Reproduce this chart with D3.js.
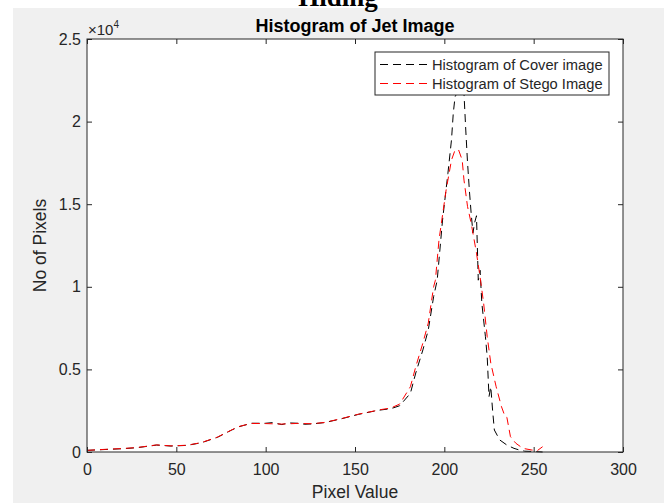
<!DOCTYPE html>
<html>
<head>
<meta charset="utf-8">
<script src="https://cdn.jsdelivr.net/npm/d3@7"></script>
<style>
  body{margin:0;background:#fff;}
  text{font-family:"Liberation Sans",Arial,sans-serif;fill:#262626;}
</style>
</head>
<body>
<svg width="664" height="503"></svg>
<script>
// pixel values (x) and counts
const coverX=[0,10,20,28,39,47,56,64,73,81,85,92,100,104,109,113,118,122,126,133,142,152,161,164,170,175,181,184,188,191,194,196,199,202,204,205,206,207,208,209,210,211,212,213,214,215,216,217,218,219,220,221,222,223,224,225,226,227,228,231,235,239,242,245,250,255];
const coverY=[100,150,200,260,420,360,400,560,890,1330,1530,1740,1740,1780,1660,1760,1740,1680,1700,1780,2000,2280,2480,2540,2620,2800,3550,4780,6180,7380,9400,10400,14040,16870,18890,20500,21500,21700,22300,22500,22400,21700,19490,17490,15860,14470,13260,13900,14300,10400,11000,9000,7990,6980,5770,3350,3950,2540,1330,730,420,220,120,50,30,0];
const stegoX=[0,10,20,28,39,47,56,64,73,81,85,92,100,109,118,126,133,142,152,161,164,170,175,181,184,188,191,194,195,197,201,204,206,208,210,211,213,215,218,220,222,224,226,229,232,234,235,237,240,244,249,252,255];
const stegoY=[100,160,210,270,430,370,410,570,900,1340,1540,1730,1720,1690,1730,1710,1790,2010,2290,2490,2560,2660,2900,3950,5160,6600,7800,10000,10400,12830,15860,17670,18280,18280,17670,16460,14850,13860,12040,10600,9000,6980,5380,3950,2740,2140,2100,930,530,220,120,80,320];
const xTicks=[0,50,100,150,200,250,300];
const yTicks=[0,5000,10000,15000,20000,25000];
const names=['Histogram of Cover image','Histogram of Stego Image'];
const colors=['#000000','#ff0000'];

const svg=d3.select('svg');
const W=+svg.attr('width'),H=+svg.attr('height');
const plot={left:87,right:623,top:39,bottom:452};
const dash='8,5';

// figure background (white strip on top/left, grey figure)
svg.append('rect').attr('width',W).attr('height',H).attr('fill','#fff');
svg.append('rect').attr('x',13).attr('y',8).attr('width',W-13).attr('height',H-8).attr('fill','#f0f0f0');

// cut-off caption from the page above (cut in the reference too)
svg.append('text').attr('x',338).attr('y',6).attr('text-anchor','middle')
  .style('font-family','"Liberation Serif","Times New Roman",serif').style('font-weight','bold')
  .style('font-size','27px').style('fill','#000').text('Hiding');

const x=d3.scaleLinear().domain([0,300]).range([plot.left,plot.right]);
const y=d3.scaleLinear().domain([0,25000]).range([plot.bottom,plot.top]);

svg.append('rect').attr('x',plot.left).attr('y',plot.top)
  .attr('width',plot.right-plot.left).attr('height',plot.bottom-plot.top).attr('fill','#fff');

const line=d3.line().x(d=>x(d[0])).y(d=>y(d[1]));
const series=[d3.zip(coverX,coverY),d3.zip(stegoX,stegoY)];
series.forEach((s,i)=>{
  svg.append('path').datum(s).attr('d',line)
    .attr('fill','none').attr('stroke',colors[i]).attr('stroke-width',1)
    .attr('stroke-dasharray',dash);
});

// axes: inward ticks on all four sides
const fmtY=d=>d3.format('~g')(d/1e4);
const axB=svg.append('g').attr('transform',`translate(0,${plot.bottom})`)
  .call(d3.axisBottom(x).tickValues(xTicks).tickSizeInner(-5).tickSizeOuter(0).tickPadding(12));
const axT=svg.append('g').attr('transform',`translate(0,${plot.top})`)
  .call(d3.axisTop(x).tickValues(xTicks).tickSizeInner(-5).tickSizeOuter(0).tickFormat(''));
const axL=svg.append('g').attr('transform',`translate(${plot.left},0)`)
  .call(d3.axisLeft(y).tickValues(yTicks).tickSizeInner(-5).tickSizeOuter(0).tickPadding(6).tickFormat(fmtY));
const axR=svg.append('g').attr('transform',`translate(${plot.right},0)`)
  .call(d3.axisRight(y).tickValues(yTicks).tickSizeInner(-5).tickSizeOuter(0).tickFormat(''));
[axB,axT,axL,axR].forEach(a=>{
  a.select('.domain').remove();
  a.selectAll('line').attr('stroke','#262626');
  a.selectAll('text').style('font-size','16px').style('fill','#262626').attr('font-family',null);
});
svg.append('rect').attr('x',plot.left).attr('y',plot.top)
  .attr('width',plot.right-plot.left).attr('height',plot.bottom-plot.top)
  .attr('fill','none').attr('stroke','#262626').attr('stroke-width',1);

// exponent
const ex=svg.append('text').attr('x',plot.left+1).attr('y',35).style('font-size','15px');
ex.append('tspan').text('\u00d710');
ex.append('tspan').attr('dy',-7).style('font-size','10px').text('4');

// title and labels
svg.append('text').attr('x',(plot.left+plot.right)/2).attr('y',32).attr('text-anchor','middle')
  .style('font-size','18px').style('font-weight','bold').style('fill','#000').text('Histogram of Jet Image');
svg.append('text').attr('x',(plot.left+plot.right)/2).attr('y',498).attr('text-anchor','middle')
  .style('font-size','17.5px').text('Pixel Value');
svg.append('text').attr('transform',`translate(46,${(plot.top+plot.bottom)/2}) rotate(-90)`)
  .attr('text-anchor','middle').style('font-size','17.5px').text('No of Pixels');

// legend
const lg=svg.append('g').attr('transform','translate(375,52)');
lg.append('rect').attr('width',234).attr('height',43).attr('fill','#fff').attr('stroke','#262626').attr('stroke-width',1);
names.forEach((n,i)=>{
  const yy=12.5+i*19;
  lg.append('line').attr('x1',5).attr('x2',55).attr('y1',yy).attr('y2',yy)
    .attr('stroke',colors[i]).attr('stroke-dasharray',dash);
  lg.append('text').attr('x',57).attr('y',yy).attr('dy','0.35em').style('font-size','14.7px').text(n);
});
</script>
</body>
</html>
